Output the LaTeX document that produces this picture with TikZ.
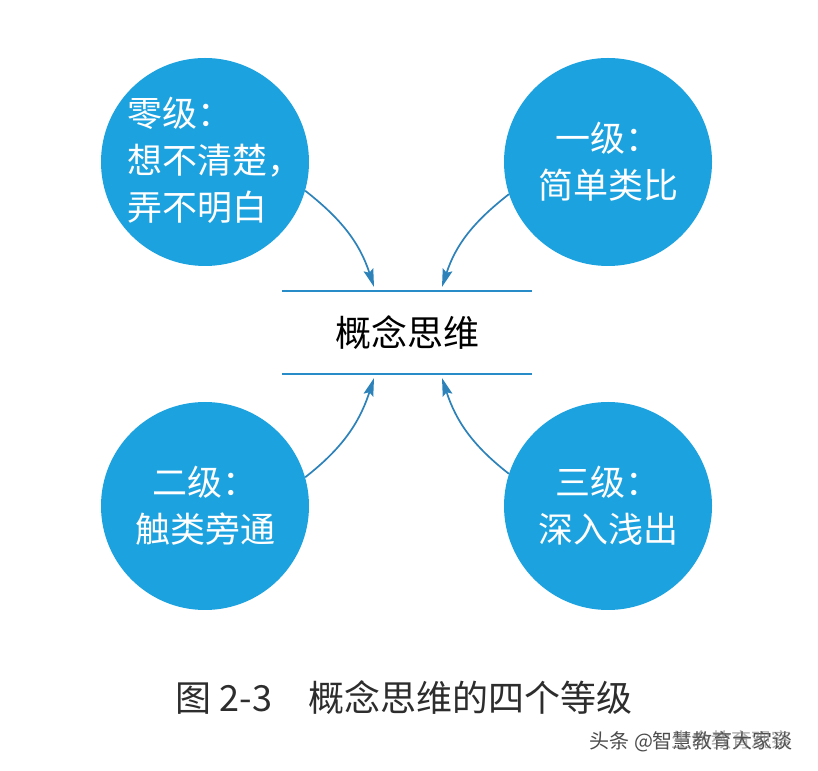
\documentclass[tikz,border=0pt]{standalone}
\usepackage{fontspec}
\setmainfont{Noto Sans CJK SC}
\usetikzlibrary{arrows.meta}

\definecolor{levelblue}{RGB}{29,162,224}
\definecolor{rulecol}{RGB}{40,140,200}
\definecolor{arrowcol}{RGB}{45,130,185}
\definecolor{capgray}{RGB}{45,45,45}

\tikzset{
  level/.style={circle, fill=levelblue, text=white, inner sep=0pt,
    minimum size=208pt, font=\fontsize{35}{47}\selectfont},
  leveltext/.style={text=white, inner sep=0pt, font=\fontsize{35}{47}\selectfont},
  flow/.style={draw=arrowcol, line width=1.7pt,
    -{Stealth[length=18pt,width=10pt,inset=3pt]}},
  rule/.style={draw=rulecol, line width=1.8pt}
}

\begin{document}
\begin{tikzpicture}[x=1pt,y=1pt]
    % Canvas size
    \useasboundingbox (0,0) rectangle (818,770);

    % Layout parameters
    \def\xl{205} % x of the left circles
    \def\xr{608} % x of the right circles
    \def\yt{608} % y of the top circles
    \def\yb{264} % y of the bottom circles

    % Four levels
    \node[level] (zero) at (\xl,\yt) {};
    \node[leveltext, align=left] (zeroText) at ([xshift=10pt,yshift=2pt]zero.center) {零级：\\想不清楚，\\弄不明白};
    \node[level, align=center] (one) at (\xr,\yt) {一级：\\简单类比};
    \node[level, align=center] (two) at (\xl,\yb) {二级：\\触类旁通};
    \node[level, align=center] (three) at (\xr,\yb) {三级：\\深入浅出};

    % Concept in the middle
    \node[font=\fontsize{36}{36}\selectfont] (concept) at (407,437) {概念思维};

    % Rules above and below the concept
    \coordinate (ruleTL) at (282,479);
    \coordinate (ruleTR) at (532,479);
    \coordinate (ruleBL) at (282,396);
    \coordinate (ruleBR) at (532,396);
    \draw[rule] (ruleTL) -- (ruleTR);
    \draw[rule] (ruleBL) -- (ruleBR);

    % Arrow tips on the rules
    \coordinate (tipA) at (374,483); % from level zero
    \coordinate (tipB) at (442,483); % from level one
    \coordinate (tipC) at (374,392); % from level two
    \coordinate (tipD) at (442,392); % from level three

    % Arrows into the concept
    \draw[flow] (zero.-16) to[out=-38,in=108] (tipA);
    \draw[flow] (one.198) to[out=-142,in=72] (tipB);
    \draw[flow] (two.16) to[out=38,in=-108] (tipC);
    \draw[flow] (three.162) to[out=142,in=-72] (tipD);

    % Caption
    \node[text=capgray, font=\fontsize{36}{36}\selectfont] (caption) at (404,72) {图 2-3　概念思维的四个等级};

    % Watermark
    \node[text=black!70, font=\fontsize{20}{20}\selectfont, anchor=west] (wmark) at (586,28) {头条 @智慧教育大家谈};
    \node[text=black!55, opacity=0.6, font=\fontsize{20}{20}\selectfont, anchor=west] (wmarkB) at (668,30) {生命教育观察};
\end{tikzpicture}
\end{document}
